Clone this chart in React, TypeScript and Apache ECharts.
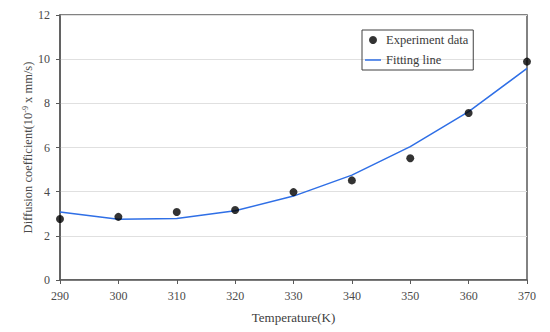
import React, { useEffect, useRef } from "react";
import * as echarts from "echarts";

const temperatures = [290, 300, 310, 320, 330, 340, 350, 360, 370];
const experimentData = [2.76, 2.86, 3.08, 3.17, 3.98, 4.51, 5.51, 7.56, 9.89];
const fittingLine = [3.08, 2.75, 2.79, 3.14, 3.8, 4.75, 6.04, 7.62, 9.58];

const FONT = "Liberation Serif";
const TEXT = "#4a4a4a";

export default function App() {
  const ref = useRef<HTMLDivElement>(null);
  useEffect(() => {
    if (!ref.current) return;
    const chart = echarts.init(ref.current, undefined, { renderer: "svg" });
    chart.setOption({
      animation: false,
      backgroundColor: "#ffffff",
      textStyle: { fontFamily: FONT },
      grid: {
        left: 60,
        right: 23,
        top: 15,
        bottom: 52,
        show: true,
        borderColor: "#595959",
        borderWidth: 1.5,
      },
      legend: {
        orient: "vertical",
        left: 362,
        top: 30,
        borderColor: "#404040",
        borderWidth: 1,
        padding: [3, 5, 3, 3],
        itemGap: 6,
        itemWidth: 16,
        itemHeight: 8,
        textStyle: { fontFamily: FONT, fontSize: 12.5, color: "#3a3a3a", lineHeight: 14 },
        data: [
          { name: "Experiment data", icon: "circle" },
          { name: "Fitting line", icon: "path://M0,0 H16 V1.5 H0 Z" },
        ],
      },
      xAxis: {
        type: "value",
        min: 290,
        max: 370,
        interval: 10,
        name: "Temperature(K)",
        nameLocation: "middle",
        nameGap: 31,
        nameMoveOverlap: false,
        nameTextStyle: { fontFamily: FONT, fontSize: 13, color: "#404040" },
        axisLine: { show: true, lineStyle: { color: "#595959", width: 1.5 } },
        axisTick: { show: true, length: 4, lineStyle: { color: "#595959" } },
        axisLabel: { fontFamily: FONT, fontSize: 12, color: TEXT, margin: 10 },
        splitLine: { show: false },
      },
      yAxis: {
        type: "value",
        min: 0,
        max: 12,
        interval: 2,
        name: "{a|Diffusion coefficient(10}{s|-9}{a| x mm/s)}",
        nameLocation: "middle",
        nameRotate: 90,
        nameGap: 25,
        nameMoveOverlap: false,
        nameTextStyle: {
          rich: {
            a: { fontFamily: FONT, fontSize: 12.5, color: TEXT },
            s: { fontFamily: FONT, fontSize: 8, color: TEXT, padding: [0, 0, 6, 0] },
          },
        },
        axisLine: { show: true, lineStyle: { color: "#595959", width: 1.5 } },
        axisTick: { show: true, length: 4, lineStyle: { color: "#595959" } },
        axisLabel: { fontFamily: FONT, fontSize: 12, color: TEXT, margin: 10 },
        splitLine: { show: true, lineStyle: { color: "#e0e0e0", width: 1 } },
      },
      series: [
        {
          name: "Fitting line",
          type: "line",
          data: temperatures.map((t, i) => [t, fittingLine[i]]),
          showSymbol: false,
          symbol: "none",
          lineStyle: { color: "#2f6fe6", width: 1.5 },
          itemStyle: { color: "#2f6fe6" },
          z: 2,
        },
        {
          name: "Experiment data",
          type: "scatter",
          data: temperatures.map((t, i) => [t, experimentData[i]]),
          symbolSize: 8,
          itemStyle: { color: "#000000" },
          z: 3,
        },
      ],
    });
    return () => chart.dispose();
  }, []);
  return <div ref={ref} style={{ width: 550, height: 332, position: "absolute", left: 0, top: 0 }} />;
}
